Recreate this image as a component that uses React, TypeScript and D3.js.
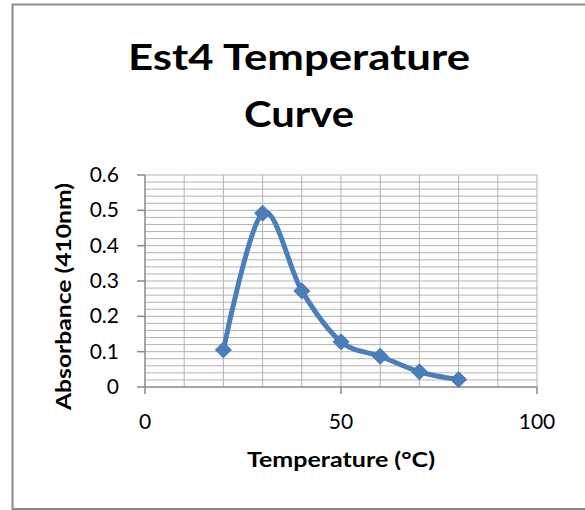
import React from "react";
import * as d3 from "d3";

const temperatures = [20, 30, 40, 50, 60, 70, 80];
const absorbance = [0.105, 0.492, 0.272, 0.128, 0.087, 0.043, 0.021];
const xTicks = [0, 50, 100];
const yTicks = [0, 0.1, 0.2, 0.3, 0.4, 0.5, 0.6];
const titleLines = ["Est4 Temperature", "Curve"];
const titleWidths = [342, 110];
const xTitle = "Temperature (°C)";
const yTitle = "Absorbance (410nm)";

const W = 585;
const H = 510;
const FONT = "Lato, 'Open Sans', sans-serif";

export default function App() {
  const x = d3.scaleLinear().domain([0, 100]).range([145, 537]);
  const y = d3.scaleLinear().domain([0, 0.6]).range([387, 175]);
  const data = temperatures.map((t, i) => ({ t, a: absorbance[i] }));
  const line = d3
    .line<{ t: number; a: number }>()
    .x((d) => x(d.t))
    .y((d) => y(d.a))
    .curve(d3.curveCardinal.tension(0));
  const vGrid = d3.range(10, 101, 10);
  const hGrid = d3.range(0.02, 0.6001, 0.02);
  const [x0, x1] = x.range();
  const [y0, y1] = y.range();
  const lineColor = "#4a7ebb";
  const gridColor = "#b3b3b3";
  const axisColor = "#888888";
  const diamond = 8;
  return (
    <svg width={W} height={H} style={{ position: "absolute", left: 0, top: 0 }}>
      <rect x={0} y={0} width={W} height={H} fill="#fff" />
      <rect x={12.5} y={4.5} width={W + 10} height={H - 5.5} fill="#fff" stroke="#8a8a8a" strokeWidth={2} />
      {titleLines.map((t, i) => (
        <text
          key={t}
          x={299}
          y={70 + i * 57}
          textAnchor="middle"
          fontFamily={FONT}
          fontWeight="bold"
          fontSize={37}
          textLength={titleWidths[i]}
          lengthAdjust="spacingAndGlyphs"
          fill="#000"
        >
          {t}
        </text>
      ))}
      {hGrid.map((v) => (
        <line key={"h" + v} x1={x0} x2={x1} y1={y(v)} y2={y(v)} stroke={gridColor} strokeWidth={1} />
      ))}
      {vGrid.map((v) => (
        <line key={"v" + v} x1={x(v)} x2={x(v)} y1={y1} y2={y0} stroke={gridColor} strokeWidth={1} />
      ))}
      <line x1={x0} x2={x0} y1={y1} y2={y0} stroke={axisColor} strokeWidth={1.5} />
      <line x1={x0} x2={x1} y1={y0} y2={y0} stroke={axisColor} strokeWidth={1.5} />
      {yTicks.map((v) => (
        <g key={"yt" + v}>
          <line x1={x0 - 8} x2={x0} y1={y(v)} y2={y(v)} stroke={axisColor} strokeWidth={1.5} />
          <text x={119} y={y(v) + 7} textAnchor="end" fontFamily={FONT} fontSize={21} fill="#000">
            {v === 0 ? "0" : v.toFixed(1)}
          </text>
        </g>
      ))}
      {xTicks.map((v) => (
        <g key={"xt" + v}>
          <line x1={x(v)} x2={x(v)} y1={y0} y2={y0 + 7} stroke={axisColor} strokeWidth={1.5} />
          <text x={x(v)} y={429} textAnchor="middle" fontFamily={FONT} fontSize={21} fill="#000">
            {v}
          </text>
        </g>
      ))}
      <text
        x={341}
        y={467}
        textAnchor="middle"
        fontFamily={FONT}
        fontWeight="bold"
        fontSize={21}
        textLength={188}
        lengthAdjust="spacingAndGlyphs"
        fill="#000"
      >
        {xTitle}
      </text>
      <text
        transform={`translate(71, 296.5) rotate(-90)`}
        textAnchor="middle"
        fontFamily={FONT}
        fontWeight="bold"
        fontSize={21}
        textLength={227}
        lengthAdjust="spacingAndGlyphs"
        fill="#000"
      >
        {yTitle}
      </text>
      <path d={line(data) || ""} fill="none" stroke={lineColor} strokeWidth={5} strokeLinejoin="round" />
      {data.map((d) => (
        <path
          key={"m" + d.t}
          d={`M${x(d.t)},${y(d.a) - diamond}L${x(d.t) + diamond},${y(d.a)}L${x(d.t)},${y(d.a) + diamond}L${x(d.t) - diamond},${y(d.a)}Z`}
          fill={lineColor}
          stroke="#4677b5"
          strokeWidth={1}
        />
      ))}
    </svg>
  );
}
